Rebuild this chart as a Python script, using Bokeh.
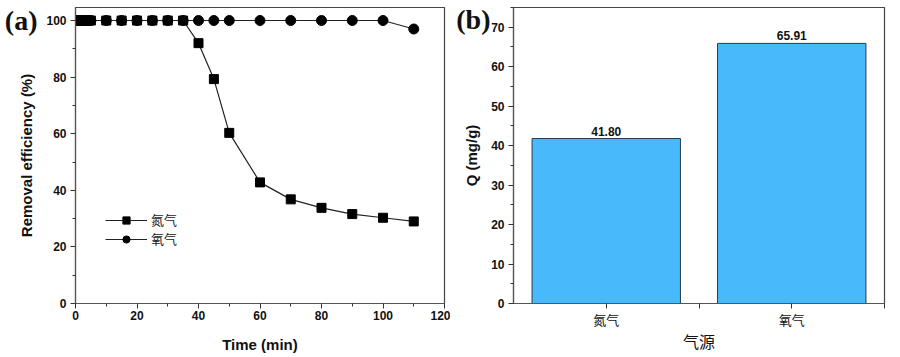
from bokeh.plotting import figure
from bokeh.layouts import row
from bokeh.models import ColumnDataSource, FixedTicker, LinearAxis, Legend, LegendItem, Range1d, LabelSet
from bokeh.core.properties import value
from bokeh.embed import file_html
from bokeh.resources import INLINE

# ---- data ----
time_min = [0, 1, 2, 3, 4, 5, 10, 15, 20, 25, 30, 35, 40, 45, 50, 60, 70, 80, 90, 100, 110]
nitrogen = [100, 100, 100, 100, 100, 100, 100, 100, 100, 100, 100, 100, 92.0, 79.3, 60.3, 42.8, 36.8, 33.8, 31.6, 30.3, 29.0]
oxygen = [100, 100, 100, 100, 100, 100, 100, 100, 100, 100, 100, 100, 100, 100, 100, 100, 100, 100, 100, 100, 97.0]
series_names = ["氮气", "氧气"]

gas_sources = ["氮气", "氧气"]
q_values = [41.80, 65.91]
q_labels = ["41.80", "65.91"]
panel_tags = ["(a)", "(b)"]

SANS = "Liberation Sans"
SERIF_CJK = "Noto Sans CJK SC"

def style_axes(p):
    for ax in (p.xaxis[0], p.yaxis[0]):
        ax.axis_line_color = "#555555"
        ax.axis_line_width = 1.2
        ax.major_tick_line_color = "#333333"
        ax.minor_tick_line_color = "#333333"
        ax.major_tick_in = 0
        ax.major_tick_out = 5
        ax.minor_tick_in = 0
        ax.minor_tick_out = 3
        ax.major_label_text_font = SANS
        ax.major_label_text_font_style = "bold"
        ax.major_label_text_font_size = "12px"
        ax.major_label_text_color = "#111111"
        ax.axis_label_text_font = SANS
        ax.axis_label_text_font_style = "bold"
        ax.axis_label_text_font_size = "15px"
        ax.axis_label_text_color = "#111111"
    p.xgrid.visible = False
    p.ygrid.visible = False
    p.outline_line_color = "#444444"
    p.outline_line_width = 1.2
    p.background_fill_color = "white"
    p.border_fill_color = "white"

def tag_axis(p, tick, text, standoff):
    ax = LinearAxis(ticker=FixedTicker(ticks=[tick], minor_ticks=[]),
                    major_label_overrides={tick: text},
                    axis_line_color=None, major_tick_line_color=None, minor_tick_line_color=None,
                    major_tick_out=0, major_tick_in=0, minor_tick_out=0, minor_tick_in=0,
                    major_label_standoff=standoff,
                    major_label_text_font="Liberation Serif", major_label_text_font_style="bold",
                    major_label_text_font_size="28px", major_label_text_color="#111111")
    p.add_layout(ax, "left")

# ---- panel (a) ----
pa = figure(width=450, height=357, output_backend="svg", toolbar_location=None,
            x_range=Range1d(0, 120), y_range=Range1d(0, 104.6),
            min_border_left=75, min_border_right=6, min_border_top=7, min_border_bottom=54)
style_axes(pa)
pa.xaxis.ticker = FixedTicker(ticks=[0, 20, 40, 60, 80, 100, 120], minor_ticks=[10, 30, 50, 70, 90, 110])
pa.yaxis.ticker = FixedTicker(ticks=[0, 20, 40, 60, 80, 100], minor_ticks=[10, 30, 50, 70, 90])
pa.xaxis.axis_label = "Time (min)"
pa.yaxis.axis_label = "Removal efficiency (%)"
pa.xaxis.major_label_standoff = 2
pa.yaxis.major_label_standoff = 4
pa.xaxis.axis_label_standoff = 13
pa.yaxis.axis_label_standoff = 8

src_a = ColumnDataSource(dict(t=time_min, n=nitrogen, o=oxygen))
l1 = pa.line("t", "n", source=src_a, line_color="#222222", line_width=1.2)
m1 = pa.scatter("t", "n", source=src_a, marker="square", size=9, fill_color="black", line_color="black")
l2 = pa.line("t", "o", source=src_a, line_color="#222222", line_width=1.2)
m2 = pa.scatter("t", "o", source=src_a, marker="circle", size=10, fill_color="black", line_color="black")

leg = Legend(items=[LegendItem(label=series_names[0], renderers=[l1, m1]),
                    LegendItem(label=series_names[1], renderers=[l2, m2])],
             location=(30, 55), border_line_color=None, background_fill_alpha=0,
             label_text_font=SERIF_CJK, label_text_font_size="13px", label_text_color="#222222",
             glyph_width=42, glyph_height=18, spacing=0, padding=2, margin=0, label_standoff=4)
pa.add_layout(leg, "center")
tag_axis(pa, 100, panel_tags[0], -22)

# ---- panel (b) ----
pb = figure(width=450, height=357, output_backend="svg", toolbar_location=None,
            x_range=Range1d(0.5, 2.5), y_range=Range1d(0, 75),
            min_border_left=63, min_border_right=16, min_border_top=7, min_border_bottom=54)
style_axes(pb)
pb.xaxis.ticker = FixedTicker(ticks=[1, 2], minor_ticks=[1.5, 2.5])
pb.xaxis.minor_tick_out = 5
pb.xaxis.major_label_overrides = {1: gas_sources[0], 2: gas_sources[1]}
pb.xaxis.major_label_text_font = SERIF_CJK
pb.xaxis.major_label_text_font_style = "normal"
pb.xaxis.major_label_text_font_size = "13px"
pb.yaxis.ticker = FixedTicker(ticks=[0, 10, 20, 30, 40, 50, 60, 70], minor_ticks=[5, 15, 25, 35, 45, 55, 65, 75])
pb.xaxis.axis_label = "气源"
pb.xaxis.axis_label_text_font = SERIF_CJK
pb.xaxis.axis_label_text_font_style = "normal"
pb.xaxis.axis_label_text_font_size = "16px"
pb.yaxis.axis_label = "Q (mg/g)"
pb.xaxis.major_label_standoff = 1
pb.xaxis.axis_label_standoff = -3
pb.yaxis.major_label_standoff = 4
pb.yaxis.axis_label_standoff = 8

src_b = ColumnDataSource(dict(x=[1, 2], q=q_values, lab=q_labels))
pb.vbar(x="x", top="q", width=0.8, source=src_b, fill_color="#48B9FA", line_color="#2a3b4a", line_width=1)
pb.add_layout(LabelSet(x="x", y="q", text="lab", source=src_b, text_align="center", text_baseline="bottom",
                       y_offset=3, text_font=value(SANS), text_font_style="bold", text_font_size="12px",
                       text_color="#111111"))
tag_axis(pb, 72, panel_tags[1], -30)

layout = row(pa, pb)
open("out.html", "w").write(file_html(layout, INLINE))
